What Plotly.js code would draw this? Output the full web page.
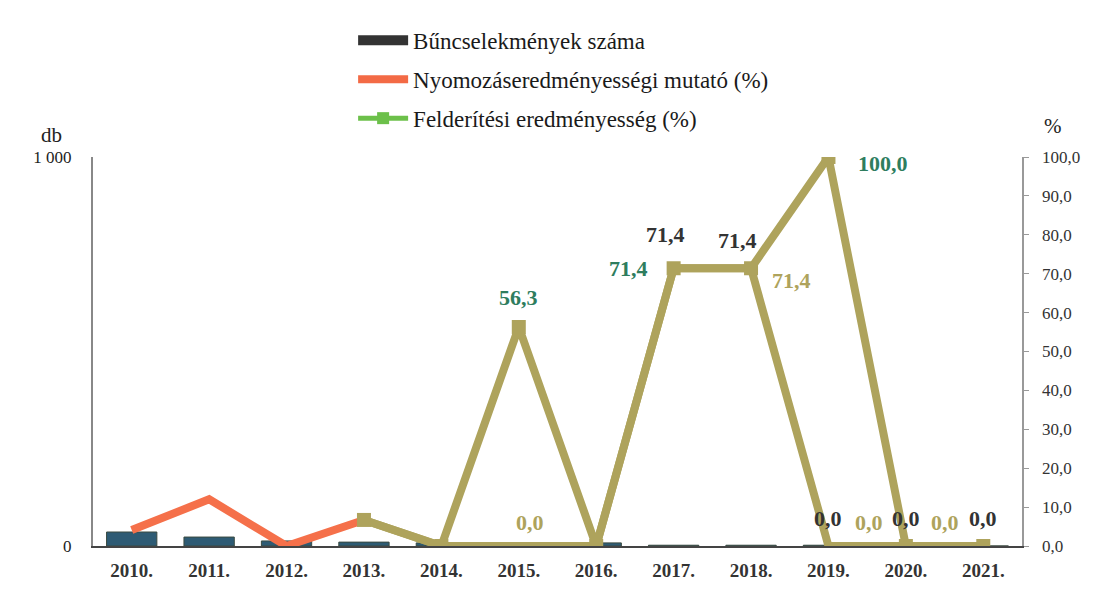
<!DOCTYPE html>
<html>
<head>
<meta charset="utf-8">
<script src="https://cdn.plot.ly/plotly-3.0.1.min.js"></script>
<style>html,body{margin:0;padding:0;background:#fff;}#chart{width:1095px;height:615px;}</style>
</head>
<body>
<div id="chart"></div>
<script>
const categories = ['2010.','2011.','2012.','2013.','2014.','2015.','2016.','2017.','2018.','2019.','2020.','2021.'];
const crimeCount = [36, 23, 13, 10, 8, 5, 8, 2, 2, 2, 0, 0];
const investigationRate = [4.1, 12.0, 0.0, 6.7, 0.0, 0.0, 0.0, 71.4, 71.4, 0.0, 0.0, 0.0];
const detectionRate = [null, null, null, 6.7, 0.0, 56.3, 0.0, 71.4, 71.4, 100.0, 0.0, 0.0];

const serif = 'Liberation Serif, Times New Roman, serif';
const olive = '#aea35c';
const orange = '#f5704a';
const fmt = v => v.toFixed(1).replace('.', ',');

// orange visible segment 2010-2013, olive afterwards (as printed)
const invOrange = investigationRate.map((v, i) => i <= 3 ? v : null);
const invOlive = investigationRate.map((v, i) => i >= 3 ? v : null);
const empty = categories.map(() => null);

const traces = [
  {type:'bar', name:'Bűncselekmények száma', x:categories, y:crimeCount, yaxis:'y',
   marker:{color:'#2e5b74', line:{color:'#3a4a40', width:1}}, width:0.65, showlegend:false, hoverinfo:'skip'},
  {type:'scatter', mode:'lines', x:categories, y:invOrange, yaxis:'y2', line:{color:orange, width:8}, showlegend:false, connectgaps:false},
  {type:'scatter', mode:'lines', x:categories, y:invOlive, yaxis:'y2', line:{color:olive, width:8}, showlegend:false},
  {type:'scatter', mode:'lines+markers', x:categories, y:detectionRate, yaxis:'y2', line:{color:olive, width:8},
   marker:{symbol:'square', size:14, color:olive}, showlegend:false},
  // legend entries
  {type:'scatter', mode:'lines', name:'Bűncselekmények száma', legendgroup:'a', x:categories, y:empty, line:{color:'#333', width:11}, showlegend:true},
  {type:'scatter', mode:'lines', name:'Nyomozáseredményességi mutató (%)', legendgroup:'b', x:categories, y:empty, yaxis:'y2', line:{color:'#f36a45', width:8}, showlegend:true},
  {type:'scatter', mode:'lines+markers', name:'Felderítési eredményesség (%)', legendgroup:'c', x:categories, y:empty, yaxis:'y2', line:{color:'#6cc04a', width:5}, marker:{symbol:'square', size:12, color:'#6cc04a'}, showlegend:true}
];

const labelFont = (c) => ({family:serif, size:22, color:c});
const ann = [];
// dark labels – investigation rate
[[7,-8,34],[8,-14,28],[9,0,28],[10,0,28],[11,0,28]].forEach(([i,dx,dy]) => {
  ann.push({x:i, y:investigationRate[i], xref:'x', yref:'y2', text:'<b>'+fmt(investigationRate[i])+'</b>', showarrow:false, xshift:dx, yshift:dy, font:labelFont('#333')});
});
// green labels – detection rate
[[5,0,29],[7,-45,0],[9,55,-6]].forEach(([i,dx,dy]) => {
  ann.push({x:i, y:detectionRate[i], xref:'x', yref:'y2', text:'<b>'+fmt(detectionRate[i])+'</b>', showarrow:false, xshift:dx, yshift:dy, font:labelFont('#2e7d5e')});
});
// olive labels
[[5,investigationRate,11,24],[8,detectionRate,40,-12],[10,detectionRate,-37,24],[11,detectionRate,-38,24]].forEach(([i,arr,dx,dy]) => {
  ann.push({x:i, y:arr[i], xref:'x', yref:'y2', text:'<b>'+fmt(arr[i])+'</b>', showarrow:false, xshift:dx, yshift:dy, font:labelFont(olive)});
});
ann.push({xref:'paper', yref:'paper', x:-0.058, y:1.057, yanchor:'middle', text:'db', showarrow:false, font:{family:serif, size:21, color:'#222'}});
ann.push({xref:'paper', yref:'paper', x:1.045, y:1.08, yanchor:'middle', text:'%', showarrow:false, font:{family:serif, size:21, color:'#222'}});

const layout = {
  width:1095, height:615,
  margin:{l:93, r:73, t:157, b:69},
  paper_bgcolor:'#fff', plot_bgcolor:'#fff',
  separators:', ',
  barmode:'overlay',
  showlegend:true,
  legend:{x:0.28, y:1.355, xanchor:'left', yanchor:'top', font:{family:serif, size:23, color:'#1a1a1a'}, bgcolor:'rgba(0,0,0,0)', tracegroupgap:6, itemwidth:50, traceorder:'grouped'},
  xaxis:{type:'category', range:[-0.5,11.5], showgrid:false, zeroline:false, showline:true, linecolor:'#444', linewidth:2, ticks:'',
         tickfont:{family:serif, size:19, color:'#333', weight:'bold'}, ticklabelstandoff:6},
  yaxis:{range:[0,1000], tickvals:[0,1000], tickformat:',d', showgrid:false, zeroline:false, showline:true, linecolor:'#888', linewidth:2,
         ticks:'inside', ticklen:5, tickcolor:'#888', tickfont:{family:serif, size:17, color:'#222'}, ticklabelstandoff:16},
  yaxis2:{range:[0,100], dtick:10, tickformat:'.1f', overlaying:'y', side:'right', showgrid:false, zeroline:false, showline:true, linecolor:'#999', linewidth:1.5,
          ticks:'outside', ticklen:5, tickcolor:'#999', tickfont:{family:serif, size:17, color:'#333'}, ticklabelstandoff:10},
  annotations:ann
};

Plotly.newPlot('chart', traces, layout, {displayModeBar:false, staticPlot:true});
</script>
</body>
</html>
